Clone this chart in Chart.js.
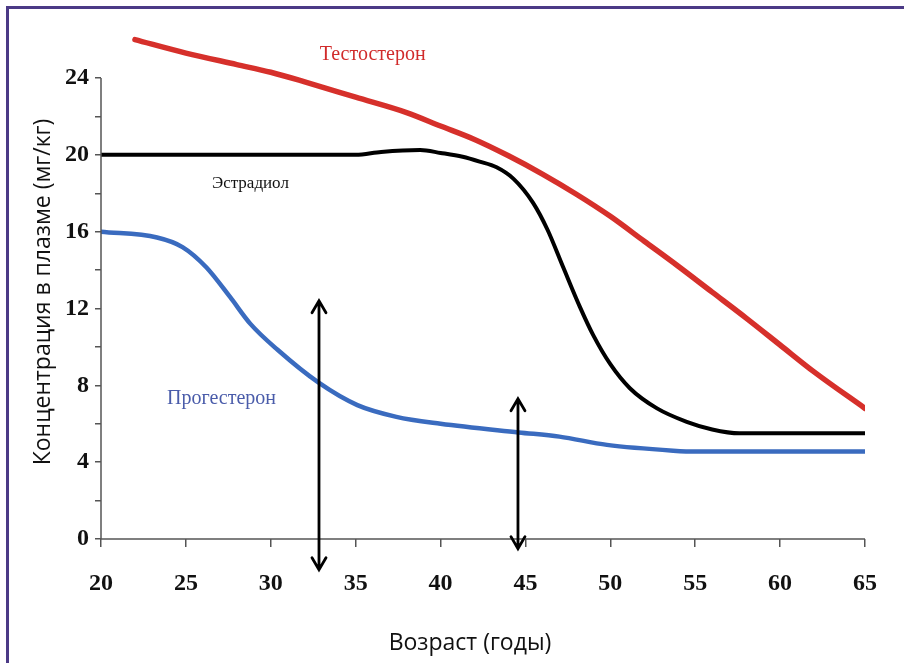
<!DOCTYPE html>
<html>
<head>
<meta charset="utf-8">
<script src="https://cdn.jsdelivr.net/npm/chart.js@4.4.1/dist/chart.umd.min.js"></script>
<style>
  html, body { margin: 0; padding: 0; background: #fff; }
  #wrap { position: relative; width: 904px; height: 663px; }
  #frame { position: absolute; left: 6px; top: 6px; right: -10px; bottom: -10px;
           border-left: 3px solid #4b3a86; border-top: 3px solid #4b3a86; pointer-events: none; }
</style>
</head>
<body>
<div id="wrap">
  <canvas id="chart" width="904" height="663"></canvas>
  <div id="frame"></div>
</div>
<script>
// Testosterone (red)
const testoAges = [22, 25, 28, 30, 32, 35, 38, 40, 42, 44, 46, 48, 50, 52, 54, 56, 58, 60, 62, 65];
const testoVals = [26.0, 25.3, 24.7, 24.3, 23.8, 23.0, 22.2, 21.5, 20.8, 19.95, 19.0, 17.95, 16.8, 15.5, 14.2, 12.85, 11.5, 10.1, 8.7, 6.8];

// Estradiol (black)
const estrAges = [20, 25, 30, 35, 36.5, 38.8, 40, 41.3, 42.3, 43.3, 44.3, 45.45, 46.3, 47.2, 48.2, 49.0, 50.0, 51.15, 52.75, 54.5, 56.0, 57.6, 60, 65];
const estrVals = [20, 20, 20, 20, 20.15, 20.25, 20.1, 19.9, 19.65, 19.35, 18.75, 17.5, 16.1, 14.2, 12.1, 10.6, 9.1, 7.85, 6.8, 6.1, 5.7, 5.5, 5.5, 5.5];

// Progesterone (blue)
const progAges = [20, 23.3, 24.8, 26.2, 27.6, 28.8, 30.4, 32.8, 35.1, 37.4, 40, 44.6, 47, 49.8, 53.7, 55, 60, 65];
const progVals = [16.0, 15.7, 15.2, 14.15, 12.6, 11.2, 9.85, 8.15, 6.97, 6.36, 6.0, 5.55, 5.33, 4.9, 4.6, 4.55, 4.55, 4.55];

// x ticks and y tick labels
const xTicks = [20, 25, 30, 35, 40, 45, 50, 55, 60, 65];
const yLabels = [0, 4, 8, 12, 16, 20, 24];

// double-headed arrows: age, top value, bottom value
const arrowAges = [32.84, 44.56];
const arrowTops = [12.4, 7.3];
const arrowBottoms = [-1.6, -0.5];

// curve labels
const labelTexts = ["Тестостерон", "Эстрадиол", "Прогестерон"];
const labelAges = [36.0, 28.8, 27.1];
const labelVals = [25.2, 18.5, 7.3];
const labelColors = ["#d12b2b", "#111111", "#4a5caa"];
const labelSizes = [20, 17, 20];

const toPoints = (xs, ys) => xs.map((x, i) => ({ x: x, y: ys[i] }));

const overlay = {
  id: "overlay",
  afterDraw(chart) {
    const { ctx, scales: { x, y } } = chart;
    ctx.save();
    // axis lines
    ctx.strokeStyle = "#555";
    ctx.lineWidth = 1.5;
    ctx.beginPath();
    ctx.moveTo(x.left, y.getPixelForValue(24));
    ctx.lineTo(x.left, y.getPixelForValue(0));
    ctx.lineTo(x.right, y.getPixelForValue(0));
    ctx.stroke();

    // arrows
    ctx.strokeStyle = "#000";
    ctx.lineWidth = 2.8;
    ctx.lineCap = "round";
    ctx.lineJoin = "miter";
    arrowAges.forEach((a, i) => {
      const px = x.getPixelForValue(a);
      const t = y.getPixelForValue(arrowTops[i]);
      const b = y.getPixelForValue(arrowBottoms[i]);
      ctx.beginPath();
      ctx.moveTo(px, t);
      ctx.lineTo(px, b);
      ctx.moveTo(px - 7, t + 12);
      ctx.lineTo(px, t);
      ctx.lineTo(px + 7, t + 12);
      ctx.moveTo(px - 7, b - 12);
      ctx.lineTo(px, b);
      ctx.lineTo(px + 7, b - 12);
      ctx.stroke();
    });

    // curve labels
    ctx.textAlign = "center";
    ctx.textBaseline = "middle";
    labelTexts.forEach((txt, i) => {
      ctx.fillStyle = labelColors[i];
      ctx.font = labelSizes[i] + "px 'Liberation Serif', serif";
      ctx.fillText(txt, x.getPixelForValue(labelAges[i]), y.getPixelForValue(labelVals[i]));
    });

    // axis titles
    ctx.fillStyle = "#111";
    ctx.font = "23px 'Open Sans', sans-serif";
    ctx.fillText("Возраст (годы)", 470, 643);
    ctx.translate(43, 292);
    ctx.rotate(-Math.PI / 2);
    ctx.fillText("Концентрация в плазме (мг/кг)", 0, 0);
    ctx.restore();
  }
};

const tickFont = { family: "'Liberation Serif', serif", size: 24, weight: "bold" };

new Chart(document.getElementById("chart"), {
  type: "line",
  data: {
    datasets: [
      { label: "Тестостерон", data: toPoints(testoAges, testoVals), borderColor: "#d6302b", borderWidth: 5.5 },
      { label: "Эстрадиол", data: toPoints(estrAges, estrVals), borderColor: "#000000", borderWidth: 4 },
      { label: "Прогестерон", data: toPoints(progAges, progVals), borderColor: "#3a6bbf", borderWidth: 4.5 }
    ]
  },
  options: {
    responsive: false,
    animation: false,
    layout: { padding: { top: 12.5, right: 39, left: 0, bottom: 0 } },
    elements: {
      point: { radius: 0 },
      line: { cubicInterpolationMode: "monotone", borderCapStyle: "round", fill: false }
    },
    plugins: { legend: { display: false }, tooltip: { enabled: false } },
    scales: {
      x: {
        type: "linear",
        min: 20,
        max: 65,
        afterFit: (s) => { s.height = 124; },
        afterBuildTicks: (s) => { s.ticks = xTicks.map(v => ({ value: v })); },
        border: { display: false },
        grid: { drawOnChartArea: false, drawTicks: true, tickLength: 8, color: "#555", lineWidth: 1.5 },
        ticks: { font: tickFont, color: "#111", padding: 22, maxRotation: 0 }
      },
      y: {
        min: 0,
        max: 27,
        afterFit: (s) => { s.width = 101; },
        afterBuildTicks: (s) => {
          const t = [];
          for (let v = 0; v <= 24; v += 2) t.push({ value: v });
          s.ticks = t;
        },
        border: { display: false },
        grid: { drawOnChartArea: false, drawTicks: true, tickLength: 6, color: "#555", lineWidth: 1.5 },
        ticks: {
          font: tickFont, color: "#111", padding: 6,
          callback: (v) => yLabels.includes(v) ? String(v) : ""
        }
      }
    }
  },
  plugins: [overlay]
});
</script>
</body>
</html>
